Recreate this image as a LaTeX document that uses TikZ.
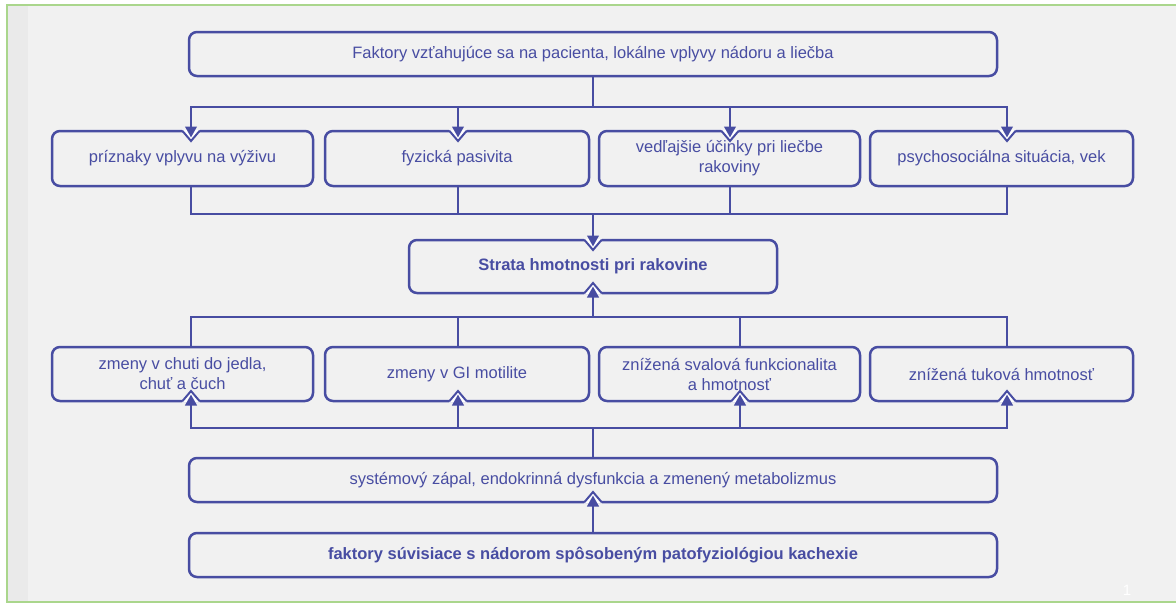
\documentclass[tikz,border=0pt]{standalone}
\usepackage{fontspec}
\setmainfont{Liberation Sans}
\usetikzlibrary{arrows.meta}

\definecolor{boxblue}{RGB}{72,77,162}
\definecolor{bggray}{RGB}{241,241,241}
\definecolor{bandgray}{RGB}{234,234,234}
\definecolor{framegreen}{RGB}{170,214,140}

\tikzset{
  box/.style={draw=boxblue, line width=2.5pt, rounded corners=8pt, text=boxblue,
    align=center, inner sep=0pt, outer sep=0pt, font=\fontsize{16.5}{20}\selectfont},
  boldbox/.style={box, font=\fontsize{16.5}{20}\selectfont\bfseries},
  wire/.style={draw=boxblue, line width=2.4pt, line cap=rect},
  flow/.style={wire, -{Triangle[width=11.5pt,length=11pt]}, shorten >=-6.5pt},
  notch/.pic={
    \fill[white] (-9,-1.6) -- (9,-1.6) -- (0,9) -- cycle;
    \draw[boxblue, line width=2pt] (-8.5,0) -- (0,10) -- (8.5,0);
  }
}

\begin{document}
\begin{tikzpicture}[x=1pt,y=-1pt]
 \useasboundingbox (0,0) rectangle (1176,603);
 % slide background
 \fill[white] (0,0) rectangle (1176,603);
 \fill[bggray] (7,5) rectangle (1180,602);
 \fill[bandgray] (7,5) rectangle (28,602);
 \draw[framegreen, line width=2pt] (7,5) rectangle (1180,602);
 \node[text=white, font=\fontsize{15}{18}\selectfont] (pagenum) at (1127,590) {1};

 % boxes
 \node[box, minimum width=808pt, minimum height=44pt] (top) at (593,54)
   {Faktory vzťahujúce sa na pacienta, lokálne vplyvy nádoru a liečba};
 \foreach \n/\x/\w/\lab in {p1/182.5/261/{príznaky vplyvu na výživu},
     p2/457/264/{fyzická pasivita},
     p3/729.5/261/{vedľajšie účinky pri liečbe\\rakoviny},
     p4/1001.5/263/{psychosociálna situácia, vek}}
   \node[box, minimum width=\w pt, minimum height=55pt] (\n) at (\x,158.5) {\lab};
 \node[boldbox, minimum width=368pt, minimum height=53pt] (strata) at (593,266.5)
   {Strata hmotnosti pri rakovine};
 \foreach \n/\x/\w/\lab in {q1/182.5/261/{zmeny v chuti do jedla,\\chuť a čuch},
     q2/457/264/{zmeny v GI motilite},
     q3/729.5/261/{znížená svalová funkcionalita\\a hmotnosť},
     q4/1001.5/263/{znížená tuková hmotnosť}}
   \node[box, minimum width=\w pt, minimum height=54pt] (\n) at (\x,374) {\lab};
 \node[box, minimum width=808pt, minimum height=44pt] (sys) at (593,480)
   {systémový zápal, endokrinná dysfunkcia a zmenený metabolizmus};
 \node[boldbox, minimum width=808pt, minimum height=44pt] (base) at (593,555)
   {faktory súvisiace s nádorom spôsobeným patofyziológiou kachexie};

 % bus lines
 \coordinate (busA) at (593,107);
 \coordinate (busB) at (593,214);
 \coordinate (busC) at (593,317);
 \coordinate (busD) at (593,428);

 % top box to first row
 \draw[wire] (top) -- (busA);
 \draw[wire] (busA -| 191,0) -- (busA -| 1007,0);
 \foreach \n/\x in {p1/191,p2/458,p3/730,p4/1007} {
   \pic at (\n.north -| \x,0) {notch};
   \draw[flow] (busA -| \x,0) -- (\n.north -| \x,0);
 }
 % first row to strata
 \draw[wire] (p1.south -| 191,0) -- (busB -| 191,0) -- (busB -| 1007,0) -- (p4.south -| 1007,0);
 \draw[wire] (p2.south -| 458,0) -- (busB -| 458,0);
 \draw[wire] (p3.south -| 730,0) -- (busB -| 730,0);
 \pic at (strata.north) {notch};
 \draw[flow] (busB) -- (strata.north);

 % second row to strata
 \draw[wire] (busC -| 191,0) -- (busC -| 1007,0);
 \foreach \n/\x in {q1/191,q2/458,q3/740,q4/1007}
   \draw[wire] (\n.north -| \x,0) -- (busC -| \x,0);
 \pic[yscale=-1] at (strata.south) {notch};
 \draw[flow] (busC) -- (strata.south);

 % systemic box to second row
 \draw[wire] (busD -| 191,0) -- (busD -| 1007,0);
 \draw[wire] (sys) -- (busD);
 \foreach \n/\x in {q1/191,q2/458,q3/740,q4/1007} {
   \pic[yscale=-1] at (\n.south -| \x,0) {notch};
   \draw[flow] (busD -| \x,0) -- (\n.south -| \x,0);
 }
 \pic[yscale=-1] at (sys.south) {notch};
 \draw[flow] (base) -- (sys.south);
\end{tikzpicture}
\end{document}
